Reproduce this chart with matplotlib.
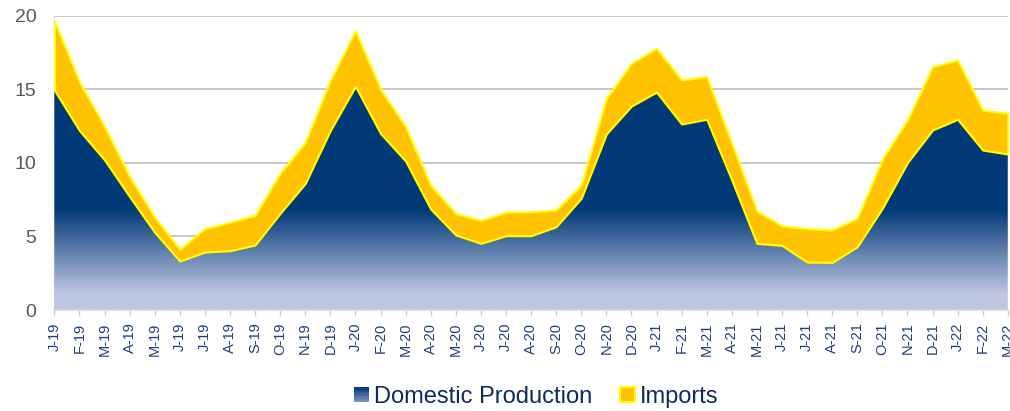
import numpy as np
import matplotlib
matplotlib.use("Agg")
import matplotlib.pyplot as plt
from matplotlib.colors import LinearSegmentedColormap
from matplotlib.patches import Rectangle, Patch
from matplotlib.legend_handler import HandlerBase

plt.rcParams['font.family'] = ['Liberation Sans', 'DejaVu Sans']

# ---- data ----
months = ["J", "F", "M", "A", "M", "J", "J", "A", "S", "O", "N", "D"]
labels = [f"{months[i % 12]}-{19 + i // 12}" for i in range(39)]

domestic = [14.95, 12.2, 10.2, 7.7, 5.28, 3.33, 3.94, 4.03, 4.42, 6.57, 8.6, 12.2,
            15.2, 12.0, 10.12, 6.86, 5.1, 4.53, 5.05, 5.05, 5.66, 7.59, 11.96, 13.86,
            14.81, 12.64, 12.96, 8.83, 4.53, 4.39, 3.26, 3.24, 4.3, 6.91, 10.01, 12.23,
            12.96, 10.87, 10.6]
total = [19.66, 15.5, 12.46, 9.06, 6.3, 4.12, 5.53, 5.96, 6.43, 9.29, 11.39, 15.6,
         18.98, 15.0, 12.46, 8.47, 6.55, 6.09, 6.64, 6.68, 6.8, 8.49, 14.38, 16.76,
         17.78, 15.63, 15.86, 11.32, 6.73, 5.71, 5.53, 5.44, 6.23, 10.24, 12.91, 16.53,
         16.99, 13.59, 13.36]
imports = [t - d for t, d in zip(total, domestic)]

NAVY = "#023A78"
LAV = "#BEC6E2"
GOLD = "#FFC200"
YEL = "#FFFF00"

x = np.arange(len(labels))
dom = np.array(domestic)
top = dom + np.array(imports)

fig = plt.figure(figsize=(10.10, 4.11), dpi=100)
ax = fig.add_axes([0.0538, 0.2457, 0.944, 0.7161])

ax.set_xlim(0, len(labels) - 1)
ax.set_ylim(0, 20)

# domestic: gradient fill clipped to area
poly = ax.fill_between(x, 0, dom, facecolor="none", edgecolor="none", zorder=1)
cmap = LinearSegmentedColormap.from_list("g", [LAV, NAVY])
yy = np.linspace(0, 20, 400)
vals = np.clip((yy - 1.1) / (6.8 - 1.1), 0, 1)[:, None]
img = ax.imshow(vals, cmap=cmap, vmin=0, vmax=1, origin="lower", aspect="auto",
                extent=(0, len(labels) - 1, 0, 20), zorder=1, interpolation="bilinear")
img.set_clip_path(poly.get_paths()[0], transform=ax.transData)

# imports
ax.fill_between(x, dom, top, facecolor=GOLD, edgecolor=YEL, linewidth=1.5, zorder=2)

# axes styling
ax.set_yticks([0, 5, 10, 15, 20])
ax.yaxis.grid(True, color="#BFBFBF", linewidth=1.2)
ax.set_axisbelow(True)
ax.tick_params(axis="y", length=0, pad=13, labelsize=14, labelcolor="#595959")
ax.set_xticks(x)
ax.set_xticklabels(labels, rotation=90, fontsize=10.5, color="#1F3D7A")
ax.tick_params(axis="x", direction="out", length=4, width=1, color="#D0D0D0", pad=5)
for s in ["top", "right"]:
    ax.spines[s].set_visible(False)
ax.spines["left"].set_color("#D9D9D9")
ax.spines["bottom"].set_color("#D9D9D9")
ax.spines["bottom"].set_linewidth(1.2)
ax.spines["left"].set_zorder(0.6)


class HandlerGradient(HandlerBase):
    def create_artists(self, legend, orig_handle, xdescent, ydescent, width, height,
                       fontsize, trans):
        n = 12
        arts = []
        for i in range(n):
            frac = i / (n - 1)
            c = cmap(0.35 + 0.65 * frac)
            r = Rectangle((-xdescent, -ydescent + height * i / n), width, height / n + 0.3,
                          facecolor=c, edgecolor="none", transform=trans)
            arts.append(r)
        return arts


h_dom = Patch(facecolor=NAVY, label="Domestic Production")
h_imp = Patch(facecolor=GOLD, edgecolor=YEL, linewidth=1.5, label="Imports")
leg = fig.legend([h_dom, h_imp], ["Domestic Production", "Imports"],
                 loc="center", bbox_to_anchor=(0.531, 0.034), ncol=2, frameon=False,
                 fontsize=17, handlelength=0.62, handleheight=0.62, handletextpad=0.2,
                 columnspacing=1.2, labelcolor="#0F2A5C",
                 handler_map={h_dom: HandlerGradient()})

fig.savefig("out.png", dpi=100)
